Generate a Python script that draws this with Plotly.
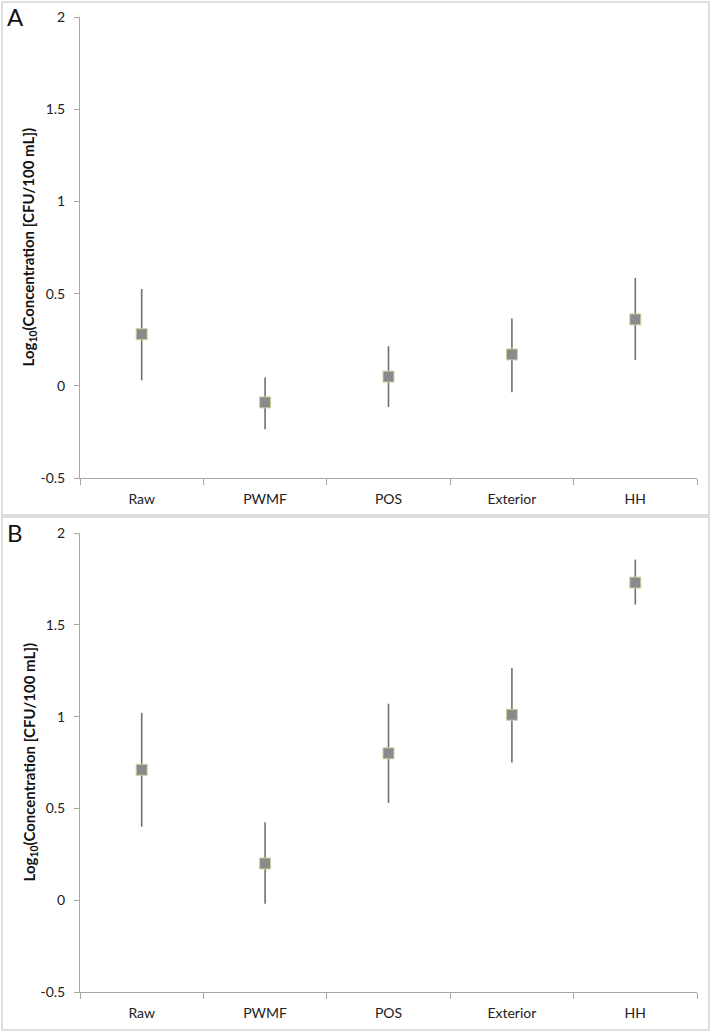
import plotly.graph_objects as go

categories = ["Raw", "PWMF", "POS", "Exterior", "HH"]

# Panel A
a_mean = [0.28, -0.09, 0.05, 0.17, 0.36]
a_upper = [0.525, 0.045, 0.215, 0.365, 0.585]
a_lower = [0.03, -0.235, -0.115, -0.035, 0.14]

# Panel B
b_mean = [0.71, 0.20, 0.80, 1.01, 1.73]
b_upper = [1.02, 0.425, 1.07, 1.265, 1.855]
b_lower = [0.40, -0.02, 0.53, 0.75, 1.61]

y_ticks = [-0.5, 0, 0.5, 1, 1.5, 2]
y_tick_text = ["-0.5", "0", "0.5", "1", "1.5", "2"]
y_title = "<b>Log<sub>10</sub>(Concentration [CFU/100 mL])</b>"
panel_labels = ["A", "B"]

W, H = 713, 1034
FONT = "Lato, 'Open Sans', sans-serif"
AXCOL = "#a6a6a6"

fig = go.Figure()

def add_panel(mean, upper, lower, xa, ya):
    plus = [u - m for u, m in zip(upper, mean)]
    minus = [m - l for m, l in zip(mean, lower)]
    fig.add_trace(go.Scatter(
        x=categories, y=mean, mode="markers",
        xaxis=xa, yaxis=ya, showlegend=False, hoverinfo="skip",
        marker=dict(symbol="square", size=11, color="#8a8a8a",
                    line=dict(color="#c6d79e", width=1)),
        error_y=dict(type="data", symmetric=False, array=plus, arrayminus=minus,
                     width=0, thickness=1.6, color="#707070"),
    ))

add_panel(a_mean, a_upper, a_lower, "x", "y")
add_panel(b_mean, b_upper, b_lower, "x2", "y2")

def py(p):
    return 1 - p / H

xdom = [80 / W, 697 / W]
dom_a = [py(478), py(17)]
dom_b = [py(992), py(533)]

xcommon = dict(
    type="category", range=[-0.5, 4.5], showline=True, linecolor=AXCOL, linewidth=1,
    ticks="outside", ticklen=6, tickcolor=AXCOL, tickson="boundaries",
    showgrid=False, zeroline=False, tickfont=dict(family=FONT, size=14, color="#222"),
    ticklabelstandoff=8, fixedrange=True, automargin=False,
)
ycommon = dict(
    range=[-0.5, 2], tickvals=y_ticks, ticktext=y_tick_text, showline=True,
    linecolor=AXCOL, linewidth=1, ticks="outside", ticklen=5, tickcolor=AXCOL,
    showgrid=False, zeroline=False, tickfont=dict(family=FONT, size=14, color="#222"),
    ticklabelstandoff=6, fixedrange=True, automargin=False,
)

fig.update_layout(
    width=W, height=H, margin=dict(l=0, r=0, t=0, b=0, autoexpand=False),
    paper_bgcolor="white", plot_bgcolor="white",
    xaxis=dict(domain=xdom, anchor="y", **xcommon),
    yaxis=dict(domain=dom_a, anchor="x", **ycommon),
    xaxis2=dict(domain=xdom, anchor="y2", **xcommon),
    yaxis2=dict(domain=dom_b, anchor="x2", **ycommon),
)

def border(x0, y0, x1, y1):
    fig.add_shape(type="rect", xref="paper", yref="paper",
                  x0=x0 / W, x1=x1 / W, y0=py(y1), y1=py(y0),
                  line=dict(color="#d4d4d4", width=1.5), fillcolor="rgba(0,0,0,0)",
                  layer="below")

border(2, 2, 709, 515)
border(2, 517, 709, 1030)

for lab, ytop, dom in [(panel_labels[0], 16.5, dom_a), (panel_labels[1], 532, dom_b)]:
    fig.add_annotation(text=lab, xref="paper", yref="paper", x=5 / W, y=py(ytop),
                       xanchor="left", yanchor="middle", showarrow=False,
                       font=dict(family=FONT, size=24, color="#111"))
    fig.add_annotation(text=y_title, xref="paper", yref="paper", x=29 / W,
                       y=(dom[0] + dom[1]) / 2, xanchor="center", yanchor="middle",
                       textangle=-90, showarrow=False,
                       font=dict(family=FONT, size=15, color="#111"))

fig.write_html(
    "out.html",
    config={"displayModeBar": False},
    post_script="document.body.style.margin='0';document.body.style.overflow='hidden';",
)
